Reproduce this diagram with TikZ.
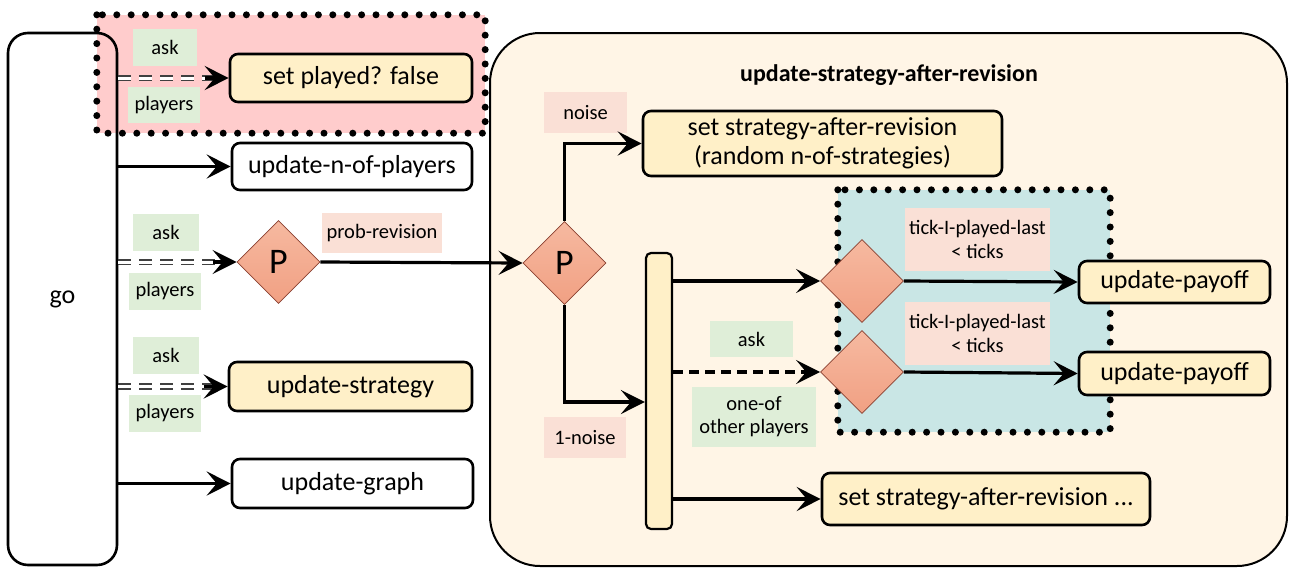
\documentclass[tikz,border=0pt]{standalone}
\usepackage{fontspec}
\setmainfont{Carlito}
\usetikzlibrary{arrows.meta,shapes.geometric,calc}
\definecolor{pinkreg}{HTML}{FFCCCC}
\definecolor{tealreg}{HTML}{C9E6E5}
\definecolor{cream}{HTML}{FFF5E6}
\definecolor{boxyel}{HTML}{FFF0C8}
\definecolor{lgreen}{HTML}{DFEED8}
\definecolor{lpink}{HTML}{FAE0D6}
\definecolor{diatop}{HTML}{F6B9A0}
\definecolor{diabot}{HTML}{F1A083}
\definecolor{diaedge}{HTML}{8A4030}
\definecolor{dblgray}{HTML}{404040}
\begin{document}
\begin{tikzpicture}[x=1pt,y=-1pt,
  bigfont/.style={font=\fontsize{26}{30}\selectfont},
  labfont/.style={font=\fontsize{20.5}{25}\selectfont},
  box/.style={draw=black, line width=2.6pt, rounded corners=8pt, bigfont, align=center, inner sep=0pt},
  ybox/.style={box, fill=boxyel},
  wbox/.style={box, fill=white},
  glab/.style={fill=lgreen, labfont, inner sep=0pt, align=center},
  plab/.style={fill=lpink, labfont, inner sep=0pt, align=center},
  dia/.style={diamond, draw=diaedge, line width=0.8pt, top color=diatop, bottom color=diabot,
     minimum width=83pt, minimum height=83pt, inner sep=0pt, font=\fontsize{36}{40}\selectfont},
  tip/.style={-{Stealth[length=24pt,width=24pt,inset=10pt]}},
  conn/.style={line width=3.2pt, tip},
  dconn/.style={line width=3.2pt, tip, dash pattern=on 10pt off 6pt},
  dbl/.style={draw=dblgray, line width=1.6pt, double=white, double distance=3pt, dash pattern=on 13pt off 8pt},
  dotb/.style={line width=7pt, dash pattern=on 0pt off 14.4pt, line cap=round},
]
\useasboundingbox (0,0) rectangle (1291,568);

% left part
\node[fill=pinkreg, minimum width=388pt, minimum height=118pt, inner sep=0pt] (redreg) at (291,74) {};
\node[draw, line width=2.6pt, rounded corners=20pt, minimum width=109pt, minimum height=532pt, bigfont] (go) at (62.5,299) {go};
\draw[dotb] (redreg.north west) rectangle (redreg.south east);

\node[glab, minimum width=64pt, minimum height=37pt] (ask1) at (165,47.5) {ask};
\node[glab, minimum width=72pt, minimum height=36pt] (pl1) at (164,105) {players};
\node[ybox, minimum width=242pt, minimum height=48pt] (spf) at (351,78) {set played? false};

\node[wbox, minimum width=240pt, minimum height=47pt] (unp) at (352,166.5) {update-n-of-players};

\node[glab, minimum width=66pt, minimum height=37pt] (ask2) at (166,232.5) {ask};
\node[glab, minimum width=72pt, minimum height=37pt] (pl2) at (165,291.5) {players};
\node[dia] (p1) at (278.5,262) {P};
\node[plab, minimum width=120pt, minimum height=40pt] (probrev) at (382,233) {prob-revision};

\node[glab, minimum width=66pt, minimum height=37pt] (ask3) at (166,355.5) {ask};
\node[glab, minimum width=72pt, minimum height=37pt] (pl3) at (165,413.5) {players};
\node[ybox, minimum width=243pt, minimum height=49pt] (ustr) at (350.5,386.5) {update-strategy};

\node[wbox, minimum width=241pt, minimum height=49pt] (ugr) at (352.5,483.5) {update-graph};

% right container
\node[draw, line width=2pt, rounded corners=50pt, fill=cream, minimum width=797pt, minimum height=533pt, inner sep=0pt] (cont) at (888.5,299.5) {};
\node[font=\bfseries\fontsize{24}{28}\selectfont] (title) at (889,75) {update-strategy-after-revision};

\node[fill=tealreg, minimum width=272pt, minimum height=242pt, inner sep=0pt] (tealr) at (974,311) {};
\draw[dotb] (tealr.north west) rectangle (tealr.south east);

\node[plab, minimum width=83pt, minimum height=41pt] (noise) at (585.5,112.5) {noise};
\node[dia] (p2) at (564.5,263) {P};
\node[ybox, minimum width=359pt, minimum height=65pt, font=\fontsize{26}{29}\selectfont] (ssr) at (822.5,143.5) {set strategy-after-revision\\(random n-of-strategies)};
\node[plab, minimum width=82pt, minimum height=41pt] (onenoise) at (585,437.5) {1-noise};
\node[draw, line width=2.2pt, rounded corners=5pt, fill=boxyel, minimum width=26pt, minimum height=276pt, inner sep=0pt] (bar) at (659,391) {};

\node[dia] (d1) at (862,281) {};
\node[dia] (d2) at (862,372) {};
\node[plab, minimum width=145pt, minimum height=63pt, font=\fontsize{20.5}{24}\selectfont] (t1) at (977.5,239.5) {tick-I-played-last\\< ticks};
\node[plab, minimum width=145pt, minimum height=63pt, font=\fontsize{20.5}{24}\selectfont] (t2) at (977.5,333.5) {tick-I-played-last\\< ticks};
\node[ybox, minimum width=191pt, minimum height=42pt] (up1) at (1174.5,282) {update-payoff};
\node[ybox, minimum width=191pt, minimum height=43pt] (up2) at (1174.5,373.5) {update-payoff};

\node[glab, minimum width=83pt, minimum height=36pt] (ask4) at (751.5,339) {ask};
\node[glab, minimum width=124pt, minimum height=60pt, font=\fontsize{20.5}{23}\selectfont] (oneof) at (754,417) {one-of\\other players};
\node[ybox, minimum width=328pt, minimum height=52pt] (ssr2) at (986,499) {set strategy-after-revision ...};

% connectors left
\draw[dbl] (spf.west -| go.east) -- ($(spf.west)+(-14,0)$);
\draw[conn] ($(spf.west)+(-24,0)$) -- (spf.west);
\draw[conn] (unp.west -| go.east) -- (unp.west);
\draw[dbl] (p1.west -| go.east) -- ($(p1.west)+(-14,0)$);
\draw[conn] ($(p1.west)+(-24,0)$) -- (p1.west);
\draw[dbl] (ustr.west -| go.east) -- ($(ustr.west)+(-14,0)$);
\draw[conn] ($(ustr.west)+(-24,0)$) -- (ustr.west);
\draw[conn] (ugr.west -| go.east) -- (ugr.west);
\draw[conn] (p1.east) -- (p2.west);

% connectors right
\draw[conn] (p2.north) |- (ssr.west);
\draw[conn] (p2.south) |- ($(bar.west)+(0,11)$);
\draw[conn] (bar.east |- d1.west) -- (d1.west);
\draw[dconn] (bar.east |- d2.west) -- (d2.west);
\draw[conn] (bar.east |- ssr2.west) -- (ssr2.west);
\draw[conn] (d1.east) -- (up1.west);
\draw[conn] (d2.east) -- (up2.west);
\end{tikzpicture}
\end{document}
